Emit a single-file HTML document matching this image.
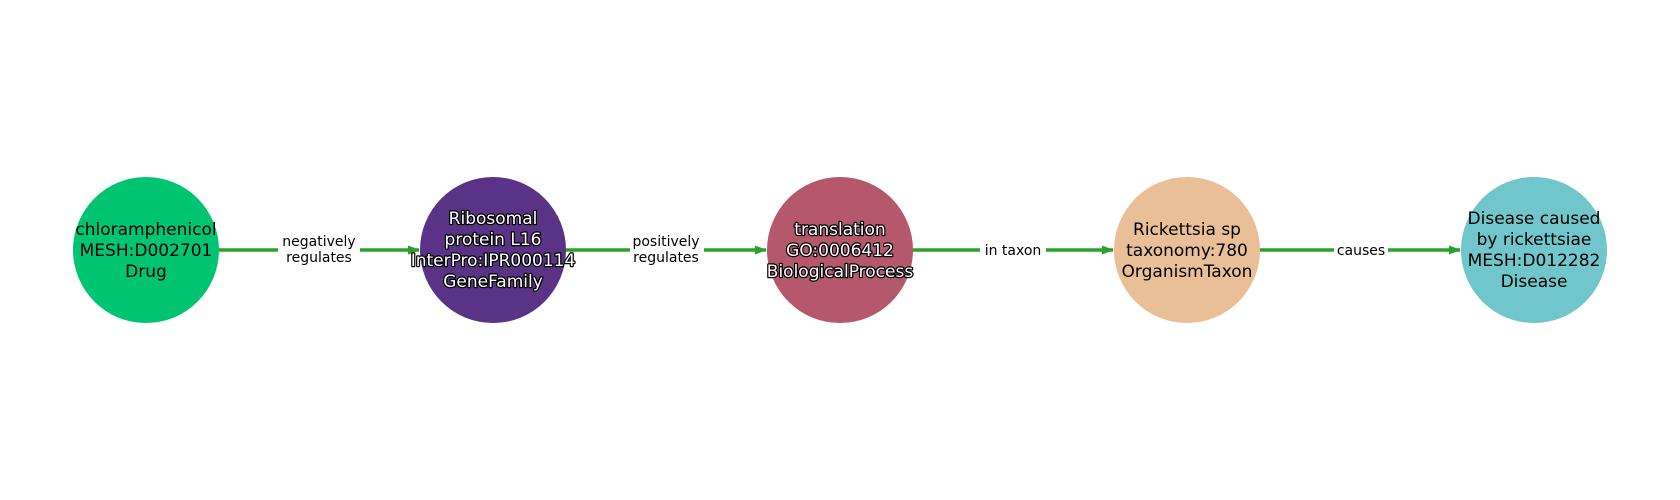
<!DOCTYPE html>
<html><head><meta charset="utf-8"><style>
html,body{margin:0;padding:0;background:#fff;}
svg{display:block;}
.n{font-family:"DejaVu Sans","Liberation Sans",sans-serif;font-size:17px;text-anchor:middle;fill:#000;}
.w{fill:#fff;stroke:#000;stroke-width:2.5px;paint-order:stroke;stroke-linejoin:round;}
.e{font-family:"DejaVu Sans","Liberation Sans",sans-serif;font-size:14px;text-anchor:middle;fill:#000;}
</style></head><body>
<svg width="1680" height="500" viewBox="0 0 1680 500" xmlns="http://www.w3.org/2000/svg">
<defs><marker id="a" markerWidth="12" markerHeight="12" refX="11" refY="6" orient="auto" markerUnits="userSpaceOnUse"><path d="M0,1.5 L12,6 L0,10.5 Z" fill="#2ca02c"/></marker></defs>
<g stroke="#2ca02c" stroke-width="3.5" fill="none">
<line x1="219" y1="250" x2="419" y2="250" marker-end="url(#a)"/>
<line x1="566" y1="250" x2="766" y2="250" marker-end="url(#a)"/>
<line x1="913" y1="250" x2="1113" y2="250" marker-end="url(#a)"/>
<line x1="1260" y1="250" x2="1460" y2="250" marker-end="url(#a)"/>
</g>
<g fill="#fff">
<rect x="278" y="232" width="82" height="36"/>
<rect x="630" y="232" width="74" height="36"/>
<rect x="980" y="240" width="66" height="20"/>
<rect x="1334" y="240" width="54" height="20"/>
</g>
<text class="e" x="319" y="246">negatively</text><text class="e" x="319" y="262">regulates</text>
<text class="e" x="666" y="246">positively</text><text class="e" x="666" y="262">regulates</text>
<text class="e" x="1013" y="255">in taxon</text>
<text class="e" x="1361" y="255">causes</text>
<circle cx="146" cy="250" r="73" fill="#00c472"/>
<circle cx="493" cy="250" r="73" fill="#5a3286"/>
<circle cx="840" cy="250" r="73" fill="#b5586c"/>
<circle cx="1187" cy="250" r="73" fill="#e8bf96"/>
<circle cx="1534" cy="250" r="73" fill="#70c6ca"/>
<text class="n" x="146" y="235">chloramphenicol</text><text class="n" x="146" y="256">MESH:D002701</text><text class="n" x="146" y="277">Drug</text>
<text class="n w" x="493" y="224">Ribosomal</text><text class="n w" x="493" y="245">protein L16</text><text class="n w" x="493" y="266">InterPro:IPR000114</text><text class="n w" x="493" y="287">GeneFamily</text>
<text class="n w" x="840" y="235">translation</text><text class="n w" x="840" y="256">GO:0006412</text><text class="n w" x="840" y="277">BiologicalProcess</text>
<text class="n" x="1187" y="235">Rickettsia sp</text><text class="n" x="1187" y="256">taxonomy:780</text><text class="n" x="1187" y="277">OrganismTaxon</text>
<text class="n" x="1534" y="224">Disease caused</text><text class="n" x="1534" y="245">by rickettsiae</text><text class="n" x="1534" y="266">MESH:D012282</text><text class="n" x="1534" y="287">Disease</text>
</svg>
</body></html>
